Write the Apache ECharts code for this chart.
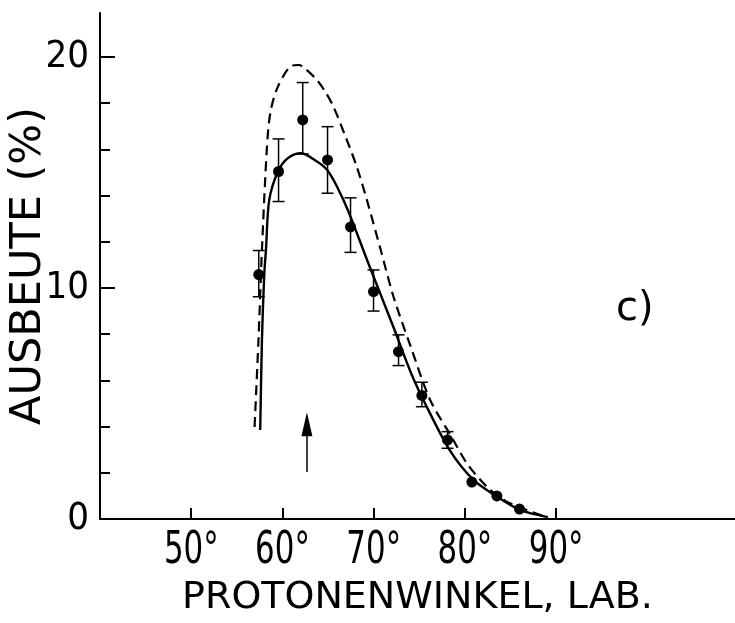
<!DOCTYPE html>
<html>
<head>
<meta charset="utf-8">
<script src="https://cdn.jsdelivr.net/npm/echarts@6/dist/echarts.min.js"></script>
<style>html,body{margin:0;padding:0;background:#fff}#c{width:735px;height:623px}</style>
</head>
<body>
<div id="c"></div>
<script>
// ---- data ----
const xTickValues = [50, 60, 70, 80, 90];
const xTickLabels = ['50°', '60°', '70°', '80°', '90°'];
const yLabelValues = [0, 10, 20];
const yTickValues = [0, 2, 4, 6, 8, 10, 12, 14, 16, 18, 20];
const yMajorTicks = [10, 20];

const pointX = [57.40, 59.57, 62.22, 64.94, 67.46, 69.98, 72.72, 75.28, 78.09, 80.76, 83.50, 85.98];
const pointY = [10.58, 15.04, 17.27, 15.54, 12.64, 9.84, 7.24, 5.35, 3.42, 1.60, 1.00, 0.43];
const errLow  = [9.62, 13.74, 15.8, 14.1, 11.54, 9.0, 6.64, 4.86, 3.06, null, null, null];
const errHigh = [11.62, 16.45, 18.89, 16.98, 13.9, 10.78, 7.97, 5.92, 3.78, null, null, null];

const solidX = [57.56, 57.75, 58.0, 58.19, 58.55, 59.53, 60.63, 62.05, 63.78, 64.9, 65.97, 67.24, 69.43, 72.17, 74.11, 75.82, 78.38, 80.94, 83.5, 86.05, 89.09];
const solidY = [3.85, 7.75, 10.56, 11.65, 13.81, 15.06, 15.63, 15.83, 15.47, 15.1, 14.39, 13.30, 11.05, 8.3, 6.3, 4.85, 2.95, 1.69, 0.97, 0.39, 0.08];

const dashX = [56.94, 57.37, 57.75, 58.28, 58.66, 59.42, 60.84, 61.79, 62.45, 63.78, 64.68, 65.58, 66.91, 68.14, 69.25, 70.8, 72.17, 74.02, 76.19, 78.47, 80.21, 82.4, 84.59, 88.79];
const dashY = [3.98, 7.75, 11.65, 15.97, 17.56, 18.64, 19.58, 19.65, 19.5, 19.0, 18.5, 17.85, 16.55, 15.25, 13.81, 11.6, 9.62, 7.5, 5.15, 3.6, 2.41, 1.40, 0.75, 0.10];

const arrowX = 62.68;
const arrowFrom = 2.03;
const arrowTo = 4.1;

const xName = 'PROTONENWINKEL, LAB.';
const yName = 'AUSBEUTE (%)';
const panelLabel = 'c)';

// ---- chart ----
const FONT = "'DejaVu Sans',sans-serif";
const NUMFONT = "'DejaVu Sans Condensed','DejaVu Sans',sans-serif";
const zip = (a, b) => a.map((v, i) => [v, b[i]]);
const errData = pointX.map((x, i) => [x, errLow[i], errHigh[i]]).filter(d => d[1] != null);

const chart = echarts.init(document.getElementById('c'), null, {renderer: 'canvas'});
chart.setOption({
  animation: false,
  backgroundColor: '#fff',
  grid: {left: 100, right: 0, top: 13, bottom: 104, containLabel: false, outerBoundsMode: 'none'},
  xAxis: [{
    type: 'value', min: 40, max: 109.6,
    splitLine: {show: false},
    axisLine: {lineStyle: {color: '#000', width: 2}},
    axisTick: {inside: true, length: 11, lineStyle: {color: '#000', width: 2}, customValues: xTickValues},
    axisLabel: {show: false},
    name: xName, nameLocation: 'middle', nameGap: 60, nameMoveOverlap: false,
    nameTextStyle: {color: '#000', fontSize: 38, fontFamily: FONT}
  }],
  yAxis: [{
    type: 'value', min: 0, max: 21.9,
    splitLine: {show: false},
    axisLine: {lineStyle: {color: '#000', width: 2}},
    axisTick: {inside: true, length: 10, lineStyle: {color: '#000', width: 2}, customValues: yTickValues},
    axisLabel: {customValues: yLabelValues, color: '#000', fontSize: 38, fontFamily: NUMFONT, margin: 11, padding: [0, 0, 6, 0]},
    name: yName, nameLocation: 'middle', nameGap: 50, nameRotate: 90, nameMoveOverlap: false,
    nameTextStyle: {color: '#000', fontSize: 43, fontFamily: FONT}
  }, {
    type: 'value', min: 0, max: 21.9, position: 'left',
    splitLine: {show: false},
    axisLine: {show: false},
    axisTick: {inside: true, length: 15, lineStyle: {color: '#000', width: 2}, customValues: yMajorTicks},
    axisLabel: {show: false}
  }],
  series: [
    {
      type: 'line', data: zip(dashX, dashY), smooth: 0.3, symbol: 'none',
      lineStyle: {color: '#000', width: 2.2, type: [10, 6]}, z: 2
    },
    {
      type: 'line', data: zip(solidX, solidY), smooth: 0.3, symbol: 'none',
      lineStyle: {color: '#000', width: 2.4}, z: 3,
      markLine: {
        silent: true, symbol: ['none', 'triangle'], symbolSize: [11, 24],
        label: {show: false},
        lineStyle: {color: '#000', width: 1.5, type: 'solid'},
        data: [[{coord: [arrowX, arrowFrom]}, {coord: [arrowX, arrowTo]}]]
      }
    },
    {
      type: 'custom', data: errData, z: 4,
      renderItem: (params, api) => {
        const x = api.value(0);
        const lo = api.coord([x, api.value(1)]);
        const hi = api.coord([x, api.value(2)]);
        const w = 6;
        const st = {stroke: '#000', lineWidth: 1.5};
        return {type: 'group', children: [
          {type: 'line', shape: {x1: lo[0], y1: lo[1], x2: hi[0], y2: hi[1]}, style: st},
          {type: 'line', shape: {x1: lo[0] - w, y1: lo[1], x2: lo[0] + w, y2: lo[1]}, style: st},
          {type: 'line', shape: {x1: hi[0] - w, y1: hi[1], x2: hi[0] + w, y2: hi[1]}, style: st}
        ]};
      }
    },
    {
      type: 'scatter', data: zip(pointX, pointY), symbol: 'circle', symbolSize: 11,
      itemStyle: {color: '#000', opacity: 1}, z: 5
    }
  ]
});

// x tick labels: narrow lettering, placed at the axis' own tick positions
const axisY = chart.convertToPixel({yAxisIndex: 0}, 0);
const labelGraphics = xTickValues.map((v, i) => ({
  type: 'text',
  x: chart.convertToPixel({xAxisIndex: 0}, v),
  y: axisY + 33,
  scaleX: 0.78,
  style: {text: xTickLabels[i], fill: '#000', fontSize: 44, fontFamily: NUMFONT, align: 'center', verticalAlign: 'middle'}
}));
labelGraphics.push({
  type: 'text', left: 616, top: 290,
  style: {text: panelLabel, fill: '#000', fontSize: 40, fontFamily: FONT}
});
chart.setOption({graphic: labelGraphics});
</script>
</body>
</html>
